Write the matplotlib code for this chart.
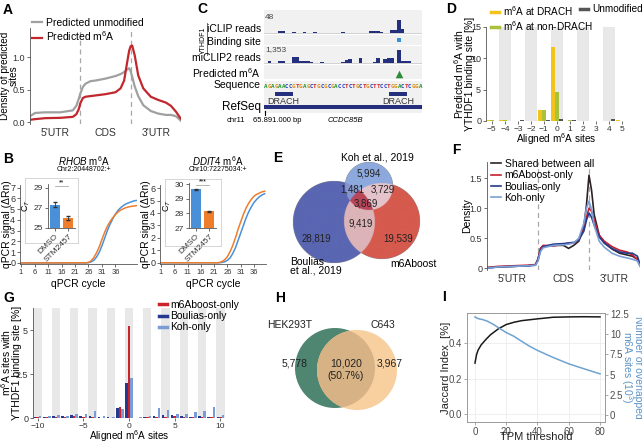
import numpy as np
import matplotlib
matplotlib.use("Agg")
import matplotlib.pyplot as plt
from matplotlib.patches import Rectangle, Circle
from matplotlib.lines import Line2D

plt.rcParams['font.family'] = ['Liberation Sans', 'DejaVu Sans']
plt.rcParams['mathtext.fontset'] = 'custom'
plt.rcParams['mathtext.rm'] = 'Liberation Sans'
plt.rcParams['mathtext.it'] = 'Liberation Sans:italic'
plt.rcParams['font.size'] = 7
plt.rcParams['axes.linewidth'] = 0.6
plt.rcParams['axes.edgecolor'] = '#555555'
plt.rcParams['xtick.major.width'] = 0.6
plt.rcParams['ytick.major.width'] = 0.6
plt.rcParams['xtick.major.size'] = 2
plt.rcParams['ytick.major.size'] = 2
plt.rcParams['xtick.labelsize'] = 6.5
plt.rcParams['ytick.labelsize'] = 6.5
plt.rcParams['xtick.color'] = '#555555'
plt.rcParams['ytick.color'] = '#555555'
plt.rcParams['xtick.labelcolor'] = '#333333'
plt.rcParams['ytick.labelcolor'] = '#333333'
plt.rcParams['xtick.major.pad'] = 1.5
plt.rcParams['ytick.major.pad'] = 1.5
plt.rcParams['axes.labelpad'] = 2

# ---------------- data ----------------
region_labels = ["5'UTR", "CDS", "3'UTR"]

# A: metagene density of predicted sites
a_x = [0, 0.1, 0.3, 0.6, 0.85, 0.92, 0.97, 1.0, 1.05, 1.1, 1.2, 1.3, 1.5, 1.7, 1.8,
       1.87, 1.93, 1.97, 2.0, 2.03, 2.08, 2.15, 2.25, 2.4, 2.55, 2.7, 2.8, 2.9, 2.97, 3.0]
a_unmod = [0.09, 0.14, 0.15, 0.15, 0.18, 0.25, 0.36, 0.44, 0.54, 0.59, 0.63, 0.64, 0.67, 0.71, 0.74,
           0.77, 0.81, 0.83, 0.78, 0.70, 0.55, 0.40, 0.26, 0.17, 0.13, 0.11, 0.11, 0.09, 0.04, 0.02]
a_m6a = [0.035, 0.045, 0.06, 0.065, 0.08, 0.12, 0.2, 0.29, 0.37, 0.39, 0.40, 0.41, 0.43, 0.46, 0.52,
         0.64, 0.92, 1.1, 1.17, 1.18, 1.03, 0.72, 0.52, 0.39, 0.34, 0.30, 0.25, 0.16, 0.08, 0.05]

# B: qPCR amplification curves and Ct insets
rhob_cycles = [1, 25, 26, 27, 28, 29, 30, 31, 32, 33, 34, 35, 36, 37, 38, 39, 40, 41, 42, 43, 44]
rhob_dmso = [0, 0, 0.02, 0.1, 0.25, 0.55, 1.0, 1.6, 2.3, 3.0, 3.6, 4.1, 4.55, 4.9, 5.15, 5.35, 5.5, 5.6, 5.7, 5.78, 5.82]
rhob_stm = [0, 0.01, 0.05, 0.2, 0.5, 0.95, 1.5, 2.2, 2.85, 3.4, 3.85, 4.2, 4.5, 4.75, 4.92, 5.05, 5.15, 5.22, 5.27, 5.3, 5.33]
ddit4_cycles = [1, 22, 23, 24, 25, 26, 27, 28, 29, 30, 31, 32, 33, 34, 35, 36, 37, 38, 39, 40]
ddit4_dmso = [0, 0, 0, 0.03, 0.08, 0.2, 0.4, 0.75, 1.2, 1.8, 2.4, 3.0, 3.6, 4.1, 4.5, 4.85, 5.1, 5.3, 5.45, 5.55]
ddit4_stm = [0, 0, 0.02, 0.1, 0.25, 0.5, 0.9, 1.4, 2.0, 2.7, 3.3, 3.9, 4.4, 4.8, 5.1, 5.35, 5.5, 5.6, 5.7, 5.75]
ct_groups = ['DMSO', 'STM2457']
rhob_ct = [27.3, 26.0]
rhob_ct_err = [0.25, 0.2]
ddit4_ct = [29.67, 28.15]
ddit4_ct_err = [0.05, 0.04]

# C: genome browser, 45 nt window
sequence = "AGAGAACCGTGAGCTGCGCGACCTCTGCTGCTTCCTGGACTCGGA"
iclip_reads = [0, 0, 0, 0, 6, 6, 0, 0, 3, 0, 0, 3, 0, 0, 3, 0, 0, 0, 0, 0, 0, 0, 3, 0, 0, 0, 0, 0, 0, 0,
               4, 4, 5, 3, 0, 0, 8, 9, 48, 14, 0, 0, 0, 0, 0]
miclip2_reads = [0, 180, 0, 0, 180, 180, 0, 0, 640, 640, 180, 180, 180, 100, 0, 0, 100, 0, 0, 0, 0, 0, 100, 285, 430,
                 0, 0, 500, 0, 0, 0, 100, 530, 0, 430, 500, 500, 0, 1353, 180, 180, 180, 0, 0, 0]
binding_sites = [38]
predicted_m6a = [38]
drach_sites = [(3.0, 8.2), (35.5, 40.7)]

# D: predicted m6A with YTHDF1 binding site
d_pos = [-5, -4, -3, -2, -1, 0, 1, 2, 3, 4, 5]
d_drach = [0.15, 0.1, 0.0, 0.0, 1.8, 11.8, 0.0, 0.0, 0.05, 0.05, 0.2]
d_nondrach = [0.1, 0.15, 0.0, 0.05, 1.8, 4.7, 0.1, 0.05, 0.05, 0.0, 0.05]
d_unmod = [0.0, 0.0, 0.1, 0.05, 0.15, 0.25, 0.15, 0.0, 0.05, 0.3, 0.0]

# E: overlap of m6A site sets
e_counts = {'Koh': 5994, 'Koh&Boulias': 1481, 'Koh&m6Aboost': 3729, 'all': 3869,
            'Boulias&m6Aboost': 9419, 'Boulias': 28819, 'm6Aboost': 19539}

# F: metagene density of subsets
f_x = [0, 0.2, 0.5, 0.8, 0.95, 1.0, 1.05, 1.1, 1.3, 1.5, 1.6, 1.7, 1.8, 1.9, 1.95, 2.0, 2.05, 2.1,
       2.2, 2.3, 2.45, 2.6, 2.75, 2.85, 2.95, 3.0]
f_shared = [0.01, 0.02, 0.03, 0.04, 0.06, 0.15, 0.33, 0.37, 0.38, 0.38, 0.33, 0.38, 0.45, 0.7, 1.05, 1.55, 1.3, 0.9,
            0.55, 0.42, 0.32, 0.25, 0.22, 0.2, 0.15, 0.05]
f_m6aboost = [0.01, 0.03, 0.04, 0.05, 0.06, 0.15, 0.33, 0.38, 0.37, 0.40, 0.42, 0.42, 0.47, 0.65, 0.85, 1.0, 0.95, 0.8,
              0.55, 0.45, 0.36, 0.3, 0.27, 0.22, 0.15, 0.05]
f_boulias = [0.0, 0.02, 0.03, 0.04, 0.05, 0.14, 0.3, 0.36, 0.40, 0.41, 0.42, 0.43, 0.47, 0.62, 0.8, 0.92, 0.85, 0.72,
             0.52, 0.42, 0.33, 0.27, 0.25, 0.25, 0.2, 0.06]
f_koh = [0.0, 0.02, 0.03, 0.04, 0.05, 0.12, 0.28, 0.34, 0.38, 0.39, 0.40, 0.42, 0.5, 0.75, 1.0, 1.12, 0.98, 0.72,
         0.45, 0.35, 0.25, 0.2, 0.17, 0.15, 0.12, 0.03]

# G: sites with YTHDF1 binding site per subset
g_pos = [-10, -9, -8, -7, -6, -5, -4, -3, -2, -1, 0, 1, 2, 3, 4, 5, 6, 7, 8, 9, 10]
g_m6aboost = [0.05, 0.05, 0.05, 0.05, 0.1, 0.05, 0.05, 0.0, 0.0, 0.6, 5.2, 0.0, 0.05, 0.05, 0.05, 0.1, 0.05, 0.05, 0.05, 0.05, 0.05]
g_boulias = [0.05, 0.05, 0.1, 0.1, 0.15, 0.1, 0.1, 0.05, 0.05, 0.55, 2.0, 0.0, 0.05, 0.1, 0.15, 0.15, 0.1, 0.05, 0.1, 0.05, 0.05]
g_koh = [0.1, 0.1, 0.15, 0.1, 0.25, 0.2, 0.4, 0.1, 0.05, 0.5, 2.3, 0.05, 0.1, 0.55, 0.45, 0.25, 0.2, 0.35, 0.4, 0.6, 0.15]

# H: cell line overlap
h_hek_only = 5778
h_shared = 10020
h_c643_only = 3967
h_shared_pct = 50.7

# I: TPM threshold scan
i_tpm = [0, 1, 2, 4, 7, 10, 15, 20, 25, 30, 40, 50, 60, 70, 80]
i_jaccard = [0.287, 0.334, 0.36, 0.39, 0.42, 0.447, 0.48, 0.504, 0.517, 0.526, 0.536, 0.545, 0.547, 0.548, 0.547]
i_sites_tpm = [0, 2, 5, 8, 12, 16, 20, 25, 30, 35, 40, 50, 60, 70, 80]
i_sites = [12.13, 11.92, 11.8, 11.6, 11.18, 10.68, 10.2, 9.73, 9.1, 8.5, 7.99, 7.12, 6.33, 5.7, 5.09]

# ---------------- figure ----------------
W, H = 642, 443
fig = plt.figure(figsize=(W / 100, H / 100), dpi=100)


def px_axes(l, t, r, b, **kw):
    return fig.add_axes([l / W, 1 - b / H, (r - l) / W, (b - t) / H], **kw)


def ftext(x, y, s, **kw):
    kw.setdefault('va', 'center')
    return fig.text(x / W, 1 - y / H, s, **kw)


def fig_legend(handles, labels, x, y, **kw):
    return fig.legend(handles, labels, loc='upper left', bbox_to_anchor=(x / W, 1 - y / H),
                      bbox_transform=fig.transFigure, frameon=False, borderpad=0, borderaxespad=0, **kw)


def only_left(ax):
    for s in ('top', 'right', 'bottom'):
        ax.spines[s].set_visible(False)


def ylabel_at(ax, text, x_px, l_px, r_px, **kw):
    # centre the (rotated) y label at a pixel column
    ax.set_ylabel(text, va='center', **kw)
    ax.yaxis.set_label_coords((x_px - l_px) / (r_px - l_px), 0.5)


def xlabel_at(ax, text, y_px, t_px, b_px, **kw):
    ax.set_xlabel(text, va='center', **kw)
    ax.xaxis.set_label_coords(0.5, (b_px - y_px) / (b_px - t_px))


for letter, x, y in [('A', 3, 10), ('B', 3, 159), ('C', 197, 9), ('D', 446, 9), ('E', 273, 158),
                     ('F', 452, 150), ('G', 3, 298), ('H', 275, 298), ('I', 442, 297)]:
    ftext(x, y, letter, fontsize=10, fontweight='bold', ha='left')

# ---- A ----
ax = px_axes(30, 28, 181, 124)
l1, = ax.plot(a_x, a_unmod, color='#a0a0a0', lw=1.6)
l2, = ax.plot(a_x, a_m6a, color='#c1272d', lw=1.6)
for b in (1, 2):
    ax.axvline(b, color='#a8a8a8', lw=0.9, ls=(0, (4, 3)), zorder=0)
ax.set_xlim(0, 3)
ax.set_ylim(-0.03, 1.45)
ax.set_yticks([0, 0.5, 1.0], ['0.0', '0.5', '1.0'])
ax.set_xticks([0.5, 1.5, 2.5], region_labels, fontsize=7.5)
ax.tick_params(axis='x', length=0, pad=3)
only_left(ax)
ylabel_at(ax, 'Density of predicted\nsites', 9.5, 30, 181, fontsize=7.2, linespacing=0.85)
fig_legend([l1, l2], ['Predicted unmodified', 'Predicted m$^6$A'], 32, 18, fontsize=7.5,
           handlelength=1.0, handletextpad=0.3, labelspacing=0.15)

# ---- B ----
def qpcr(l, r, ylab_x, cycles, dmso, stm, xmax, ymax, yticks, gene, coord, frame, inner, ct, err, ct_lim,
         ct_ticks, stars):
    ax = px_axes(l, 185, r, 264)
    ax.plot(cycles, dmso, color='#4a90d9', lw=1.1)
    ax.plot(cycles, stm, color='#ee7d2c', lw=1.1)
    ax.set_xlim(0.6, xmax)
    ax.set_ylim(-0.1, ymax)
    ax.set_xticks([1, 6, 11, 16, 21, 26, 31, 36])
    ax.set_yticks(yticks)
    ax.tick_params(labelsize=5.5)
    ax.tick_params(axis='y', labelsize=6.5)
    ax.spines['top'].set_visible(False)
    ax.spines['right'].set_visible(False)
    xlabel_at(ax, 'qPCR cycle', 284, 185, 264, fontsize=7.5)
    ylabel_at(ax, 'qPCR signal (\u0394Rn)', ylab_x, l, r, fontsize=7.5)
    cx = (l + r) / 2 + 5
    ftext(cx, 161, r'$\mathit{' + gene + '}$ m$^6$A', fontsize=7, ha='center')
    ftext(cx, 169.5, coord, fontsize=5, ha='center')
    fa = px_axes(*frame)
    fa.set_xticks([])
    fa.set_yticks([])
    for s in fa.spines.values():
        s.set_color('#cfcfcf')
    ia = px_axes(*inner)
    ia.bar([0, 1], [c - ct_lim[0] for c in ct], bottom=ct_lim[0], width=0.75,
           color=['#4a90d9', '#ee7d2c'], yerr=err, error_kw=dict(lw=0.6, capsize=1.2, ecolor='#333333'))
    ia.set_xlim(-0.5, 1.5)
    ia.set_ylim(*ct_lim)
    ia.set_yticks(ct_ticks)
    ia.set_xticks([0, 1], ct_groups, rotation=45, ha='right', rotation_mode='anchor', fontsize=6)
    ia.tick_params(labelsize=6)
    ia.spines['top'].set_visible(False)
    ia.spines['right'].set_visible(False)
    ia.set_ylabel('C$_T$', fontsize=6.5, labelpad=1)
    ys = ct_lim[1] - 0.05 * (ct_lim[1] - ct_lim[0])
    ia.plot([0, 1], [ys, ys], color='#aaaaaa', lw=0.6, clip_on=False)
    ia.text(0.5, ys, stars, ha='center', va='bottom', fontsize=5, clip_on=False)


qpcr(20, 137, 7.5, rhob_cycles, rhob_dmso, rhob_stm, 44, 7.25, range(0, 8), 'RHOB', 'Chr2:20448702:+',
     (25, 178, 78, 243), (48, 184, 75, 228), rhob_ct, rhob_ct_err, (25, 29.4), [25, 27, 29], '**')
qpcr(160, 266, 146, ddit4_cycles, ddit4_dmso, ddit4_stm, 40.5, 6.25, range(0, 7), 'DDIT4', 'Chr10:72275034:+',
     (165, 179, 221, 246), (189, 183, 216, 228), ddit4_ct, ddit4_ct_err, (27, 30.1), [27, 28, 29, 30], '***')

# ---- C ----
navy = '#24307e'
axc = px_axes(264, 8, 422, 118)
axc.set_xlim(0, 45)
axc.set_ylim(118, 8)
axc.axis('off')
for y0, y1 in [(10, 33.5), (34.5, 44.5), (45.5, 64), (65, 79.5), (80.5, 113)]:
    axc.add_patch(Rectangle((0, y0), 45, y1 - y0, color='#f1f1f1', zorder=0, lw=0))
nt = np.arange(len(sequence))
axc.bar(nt, [-13 * v / max(iclip_reads) for v in iclip_reads], bottom=32.5, width=1, align='edge', color=navy)
axc.bar(nt, [-13 * v / max(miclip2_reads) for v in miclip2_reads], bottom=63, width=1, align='edge', color=navy)
axc.plot([0, 45], [32.5, 32.5], color='#bbbbbb', lw=0.4)
axc.plot([0, 45], [63, 63], color='#bbbbbb', lw=0.4)
axc.scatter([p + 0.5 for p in binding_sites], [39.5] * len(binding_sites), marker='s', s=7, color='#3a8fd6', lw=0)
axc.scatter([p + 0.5 for p in predicted_m6a], [73.5] * len(predicted_m6a), marker='^', s=30, color='#2e8b3a', lw=0)
base_colors = {'A': '#1c9a2a', 'C': '#2340c8', 'G': '#d98b0b', 'T': '#d42424'}
for i, ch in enumerate(sequence):
    axc.text(i + 0.5, 86.5, ch, color=base_colors[ch], fontsize=4.2, family='DejaVu Sans Mono',
             fontweight='bold', ha='center', va='center')
for s0, s1 in drach_sites:
    axc.add_patch(Rectangle((s0, 91.5), s1 - s0, 4.5, color=navy, lw=0))
    axc.text((s0 + s1) / 2, 101, 'DRACH', ha='center', va='center', fontsize=6.5, color='#333333')
axc.add_patch(Rectangle((0, 105.3), 45, 3.6, color=navy, lw=0))
axc.plot([0.4, 0.4], [110.5, 115], color='black', lw=0.8)
axc.text(0.3, 17, '48', fontsize=6, color='#444444', va='center')
axc.text(0.3, 50, '1,353', fontsize=6, color='#444444', va='center')
for label, y in [('iCLIP reads', 29), ('Binding site', 42), ('miCLIP2 reads', 58), ('Predicted m$^6$A', 73),
                 ('Sequence', 85)]:
    ftext(261, y, label, fontsize=7.5, ha='right')
ftext(261, 107, 'RefSeq', fontsize=8.5, ha='right')
ftext(203, 40, 'YTHDF1', fontsize=5, rotation=90, ha='center')
fig.add_artist(Line2D([207 / W, 207 / W], [1 - 23 / H, 1 - 55 / H], color='#555555', lw=0.6))
ftext(227, 120, 'chr11', fontsize=5.5, ha='left')
ftext(253, 120, '65.891.000 bp', fontsize=5.5, ha='left')
ftext(328, 120, 'CCDC85B', fontsize=5.5, ha='left', style='italic')

# ---- D ----
axd = px_axes(486, 27, 627, 121)
dp = np.array(d_pos)
for p in d_pos:
    if p % 2 == 0:
        axd.axvspan(p - 0.45, p + 0.45, color='#e8e8e8', lw=0, zorder=0)
axd.bar(dp - 0.3, d_drach, width=0.3, color='#f2c31b')
axd.bar(dp, d_nondrach, width=0.3, color='#a9c23c')
axd.bar(dp + 0.3, d_unmod, width=0.3, color='#555555')
axd.set_xlim(-5.45, 5.4)
axd.set_ylim(0, 15)
axd.set_xticks(d_pos, [str(p).replace('-', '\u2212') for p in d_pos])
axd.set_yticks([0, 5, 10, 15])
axd.tick_params(axis='x', labelsize=6)
only_left(axd)
xlabel_at(axd, 'Aligned m$^6$A sites', 139, 27, 121, fontsize=7.2)
ylabel_at(axd, 'Predicted m$^6$A with\nYTHDF1 binding site [%]', 464, 486, 627, fontsize=7.5, linespacing=0.85)
dh = [Line2D([], [], color=c, lw=2.5) for c in ('#f2c31b', '#a9c23c', '#555555')]
fig_legend(dh[:2], ['m$^6$A at DRACH', 'm$^6$A at non-DRACH'], 491, 4, fontsize=7.2,
           handlelength=0.8, handletextpad=0.4, labelspacing=0.1)
fig_legend(dh[2:], ['Unmodified'], 580, 4, fontsize=7.2, handlelength=0.8, handletextpad=0.4)

# ---- E ----
axe = px_axes(268, 150, 432, 292)
gx, gy = np.meshgrid(np.linspace(268, 432, 821), np.linspace(150, 292, 711))
in_b = (gx - 334) ** 2 + (gy - 222) ** 2 <= 41 ** 2
in_m = (gx - 382) ** 2 + (gy - 221) ** 2 <= 38 ** 2
in_k = (gx - 369) ** 2 + (gy - 186) ** 2 <= 24 ** 2
img = np.zeros(gx.shape + (4,))
region_colors = [
    (in_b & ~in_m & ~in_k, '#5a66b2'),
    (in_m & ~in_b & ~in_k, '#d65a4e'),
    (in_k & ~in_b & ~in_m, '#8da9de'),
    (in_b & in_m & ~in_k, '#dcb4b8'),
    (in_b & in_k & ~in_m, '#8595cf'),
    (in_m & in_k & ~in_b, '#e4c3cb'),
    (in_b & in_m & in_k, '#b9465a'),
]
for mask, col in region_colors:
    img[mask] = matplotlib.colors.to_rgba(col)
axe.imshow(img, extent=(268, 432, 292, 150), origin='upper', interpolation='antialiased')
axe.set_xlim(268, 432)
axe.set_ylim(292, 150)
axe.axis('off')
for key, x, y in [('Koh', 369, 174), ('Koh&Boulias', 352, 189), ('Koh&m6Aboost', 383, 189), ('all', 366, 203),
                  ('Boulias&m6Aboost', 361, 224), ('Boulias', 316, 239), ('m6Aboost', 398, 239)]:
    axe.text(x, y, f'{e_counts[key]:,}', ha='center', va='center', fontsize=7, color='#222222')
ftext(377, 157, 'Koh et al., 2019', fontsize=7.5, ha='center')
ftext(290, 266, 'Boulias\net al., 2019', fontsize=7.5, ha='left', linespacing=0.8)
ftext(413, 264, 'm6Aboost', fontsize=7.5, ha='center')

# ---- F ----
axf = px_axes(487, 162, 640, 270)
fcols = ['#2d2226', '#c8202f', '#263a8c', '#7c9fd8']
fh = []
for ys, c in zip([f_shared, f_m6aboost, f_boulias, f_koh], fcols):
    ln, = axf.plot(f_x, ys, color=c, lw=1.2)
    fh.append(ln)
for b in (1, 2):
    axf.axvline(b, color='#a8a8a8', lw=0.9, ls=(0, (4, 3)), zorder=0)
axf.set_xlim(0, 3)
axf.set_ylim(-0.03, 1.77)
axf.set_yticks([0, 0.5, 1.0, 1.5], ['0', '0.5', '1.0', '1.5'])
axf.set_xticks([0.5, 1.5, 2.5], region_labels, fontsize=7.5)
axf.tick_params(axis='x', length=0, pad=3)
only_left(axf)
ylabel_at(axf, 'Density', 467, 487, 640, fontsize=7.5)
fig_legend(fh, ['Shared between all', 'm6Aboost-only', 'Boulias-only', 'Koh-only'], 491, 159, fontsize=7.5,
           handlelength=1.0, handletextpad=0.3, labelspacing=0.12)

# ---- G ----
axg = px_axes(33, 308, 225, 418)
gp = np.array(g_pos)
for p in g_pos:
    if p % 2 == 0:
        axg.axvspan(p - 0.45, p + 0.45, color='#e8e8e8', lw=0, zorder=0)
axg.bar(gp - 0.28, g_boulias, width=0.28, color='#26398f')
axg.bar(gp, g_m6aboost, width=0.28, color='#cc2229')
axg.bar(gp + 0.28, g_koh, width=0.28, color='#7b9bd6')
axg.set_xlim(-10.5, 10.5)
axg.set_ylim(0, 6.25)
axg.set_xticks([-10, -5, 0, 5, 10], ['\u221210', '\u22125', '0', '5', '10'])
axg.set_yticks([0, 2.5, 5], ['0', '2.5', '5'])
axg.tick_params(axis='x', labelsize=6)
only_left(axg)
xlabel_at(axg, 'Aligned m$^6$A sites', 436, 308, 418, fontsize=7.2)
ylabel_at(axg, 'm$^6$A sites with\nYTHDF1 binding site [%]', 11, 33, 225, fontsize=7.5, linespacing=0.85)
gh = [Line2D([], [], color=c, lw=2.5) for c in ('#cc2229', '#26398f', '#7b9bd6')]
fig_legend(gh, ['m6Aboost-only', 'Boulias-only', 'Koh-only'], 159, 300, fontsize=7.5,
           handlelength=0.8, handletextpad=0.3, labelspacing=0.12)

# ---- H ----
axh = px_axes(270, 300, 430, 430)
axh.set_xlim(270, 430)
axh.set_ylim(430, 300)
axh.set_aspect('equal')
axh.axis('off')
axh.add_patch(Circle((335, 368), 40, color='#4f8672', lw=0))
axh.add_patch(Circle((357, 370), 40, color='#f8d0a0', lw=0))
ov = Circle((357, 370), 40, color='#d6b285', lw=0)
axh.add_patch(ov)
ov.set_clip_path(Circle((335, 368), 40, transform=axh.transData))
axh.text(295, 363, f'{h_hek_only:,}', ha='center', va='center', fontsize=7.5, color='#222222')
axh.text(346, 363, f'{h_shared:,}', ha='center', va='center', fontsize=7.5, color='#222222')
axh.text(346, 376, f'({h_shared_pct}%)', ha='center', va='center', fontsize=7.5, color='#222222')
axh.text(390, 363, f'{h_c643_only:,}', ha='center', va='center', fontsize=7.5, color='#222222')
axh.text(290, 325, 'HEK293T', ha='center', va='center', fontsize=7.5, color='#222222')
axh.text(383, 325, 'C643', ha='center', va='center', fontsize=7.5, color='#222222')

# ---- I ----
axi = px_axes(467, 313, 605, 422)
axi.plot(i_tpm, i_jaccard, color='#1a1a1a', lw=1.1, zorder=3)
axi.set_xlim(-5.1, 83.2)
axi.set_ylim(-0.045, 0.569)
axi.set_xticks([0, 20, 40, 60, 80])
axi.set_yticks([0.0, 0.2, 0.4], ['0.0', '0.2', '0.4'])
axi.grid(True, color='#ececec', lw=0.6)
axi.set_axisbelow(True)
for s in axi.spines.values():
    s.set_color('#9a9a9a')
axi.tick_params(labelsize=7, labelcolor='#4d4d4d', color='#9a9a9a')
xlabel_at(axi, 'TPM threshold', 437, 313, 422, fontsize=8, color='#222222')
ylabel_at(axi, 'Jaccard Index  [%]', 446, 467, 605, fontsize=8, color='#222222')
axi2 = axi.twinx()
axi2.plot(i_sites_tpm, i_sites, color='#6ea2d0', lw=1.1)
axi2.set_ylim(-0.87, 12.62)
axi2.set_yticks([0, 2.5, 5, 7.5, 10, 12.5], ['0', '2.5', '5', '7.5', '10', '12.5'])
axi2.tick_params(labelsize=7, labelcolor='#4d4d4d', color='#9a9a9a')
for s in axi2.spines.values():
    s.set_color('#9a9a9a')
axi2.set_ylabel('Number of overlapped\nm6A sites (10$^3$)', fontsize=7.5, color='#5b93c8', rotation=270,
                va='center', linespacing=0.9)
axi2.yaxis.set_label_coords((631 - 467) / (605 - 467), 0.5)

fig.savefig('out.png', dpi=100, facecolor='white')
